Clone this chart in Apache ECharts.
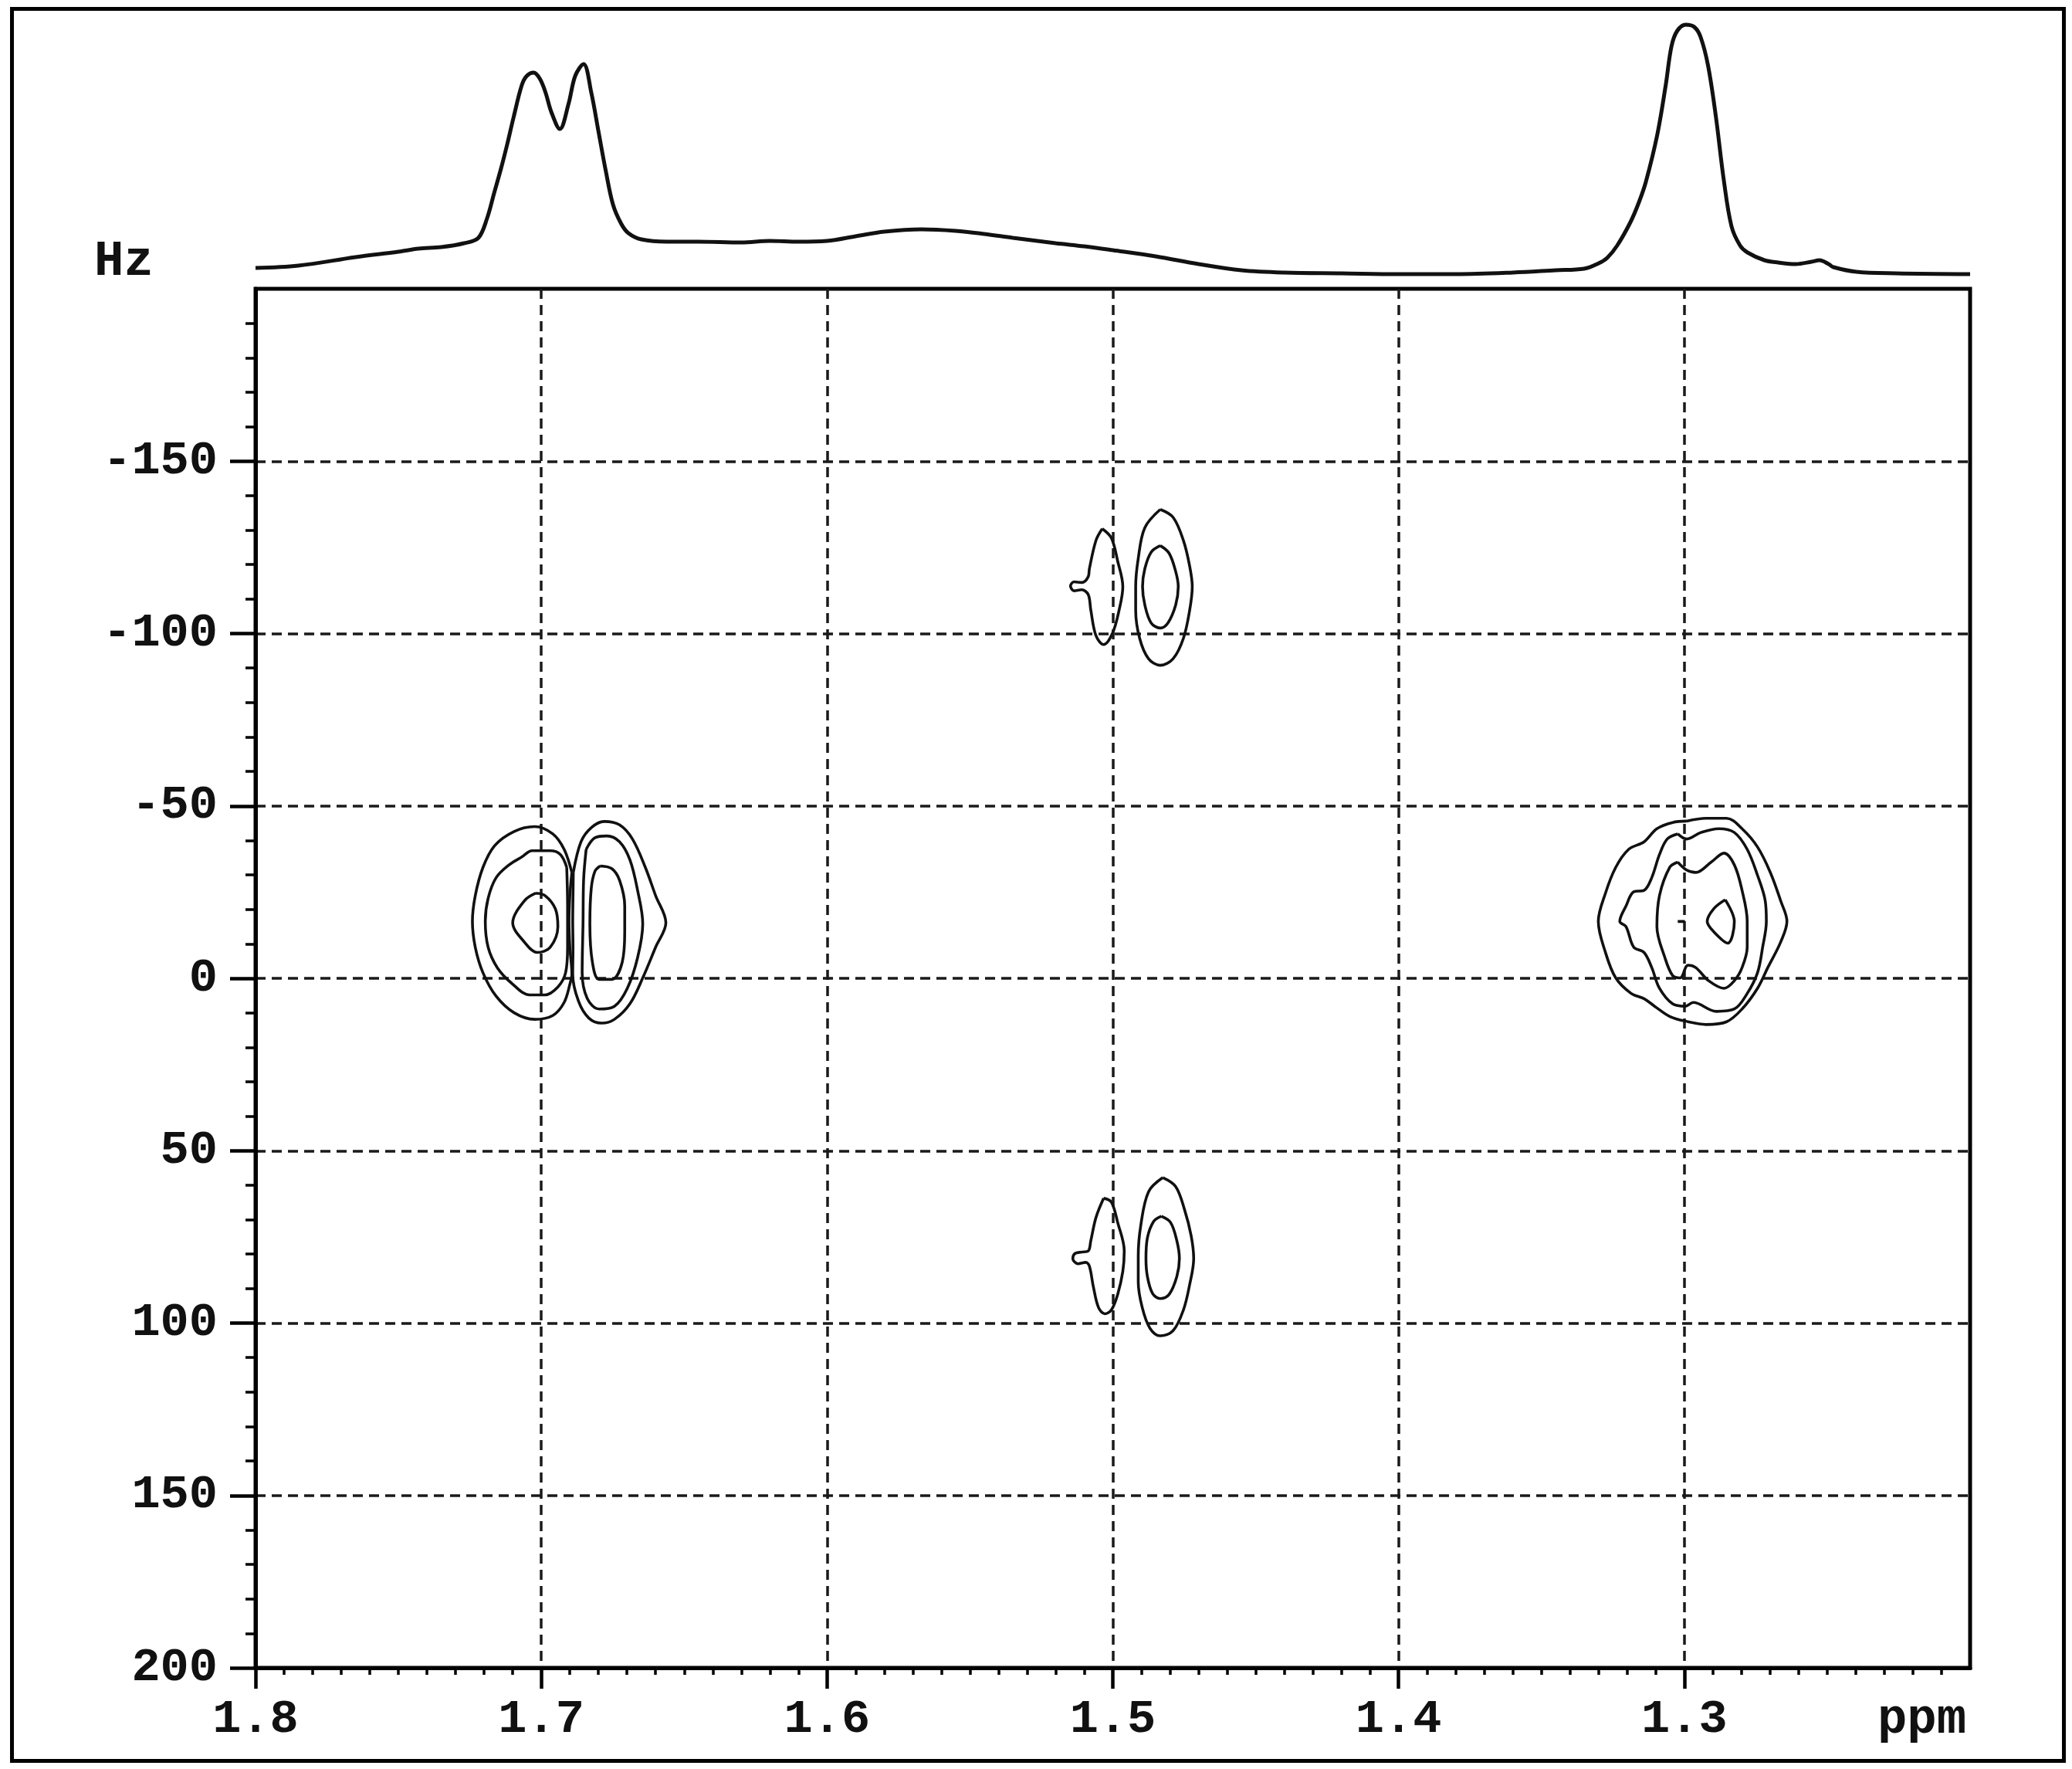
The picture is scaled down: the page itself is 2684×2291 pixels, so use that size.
<!DOCTYPE html>
<html>
<head>
<meta charset="utf-8">
<script src="https://cdn.jsdelivr.net/npm/echarts@6.0.0/dist/echarts.min.js"></script>
<style>
html,body{margin:0;padding:0;background:#fff;}
#chart{width:2684px;height:2291px;}
</style>
</head>
<body>
<div id="chart"></div>
<script>
// ---- tick labels ----
const ppmTickLabels = [1.8, 1.7, 1.6, 1.5, 1.4, 1.3];
const hzTickLabels = [-150, -100, -50, 0, 50, 100, 150, 200];

// ---- 1D projection spectrum: [ppm, intensity] ----
const spectrum = [
  [1.800, 13], [1.785, 16], [1.765, 27], [1.750, 34], [1.743, 38], [1.735, 40],
  [1.727, 45], [1.722, 52], [1.719, 77], [1.7165, 110], [1.714, 143], [1.712, 172],
  [1.7097, 208], [1.7068, 250], [1.705, 262], [1.7027, 266], [1.7005, 258],
  [1.6985, 240], [1.6965, 215], [1.6935, 193], [1.6905, 225], [1.6881, 262],
  [1.6852, 277], [1.6825, 240], [1.6800, 190], [1.6775, 140], [1.6749, 95],
  [1.672, 70], [1.6695, 58], [1.665, 50], [1.656, 47], [1.645, 47], [1.63, 46],
  [1.62, 48], [1.61, 47], [1.60, 48], [1.59, 54], [1.58, 60], [1.567, 63],
  [1.555, 61], [1.545, 57], [1.535, 52], [1.52, 45], [1.51, 41], [1.50, 36],
  [1.485, 28], [1.47, 18], [1.455, 10], [1.44, 7], [1.42, 6], [1.40, 5],
  [1.38, 5], [1.36, 7], [1.345, 10], [1.3351, 12], [1.330, 19], [1.327, 26],
  [1.3235, 42], [1.3189, 72], [1.316, 97], [1.3135, 124], [1.3095, 185],
  [1.3065, 250], [1.3045, 300], [1.3025, 320], [1.2995, 328], [1.2965, 325],
  [1.2943, 312], [1.2917, 275], [1.2890, 210], [1.2862, 127], [1.2835, 67],
  [1.2805, 42], [1.2779, 33], [1.272, 23], [1.2671, 20], [1.261, 18],
  [1.2555, 21], [1.2527, 23], [1.2495, 18], [1.2478, 14], [1.2398, 8],
  [1.226, 6], [1.20, 5]
];

// ---- 2D J-resolved contours: [ppm, Hz] vertices ----
const doubletLeftOuter = [
  [1.6893,-30.7],[1.6920,-37.4],[1.6960,-41.9],[1.7023,-44.0],[1.7095,-42.6],[1.7163,-38.5],
  [1.7204,-32.2],[1.7231,-24.0],[1.7241,-16.5],[1.7231,-9.0],[1.7204,-1.6],[1.7158,5.2],
  [1.7095,10.0],[1.7023,11.9],[1.6960,10.8],[1.6920,7.0],[1.6899,1.4],[1.6893,-1.2],
  [1.6900,-9.0],[1.6903,-16.5],[1.6900,-24.0]
];
const doubletLeftMiddle = [
  [1.6911,-32.2],[1.6933,-35.9],[1.6969,-37.0],[1.7032,-37.0],[1.7068,-35.2],[1.7113,-32.9],
  [1.7158,-29.2],[1.7186,-23.2],[1.7196,-16.5],[1.7186,-9.0],[1.7154,-3.1],[1.7104,1.4],
  [1.7041,4.8],[1.6987,4.8],[1.6942,2.5],[1.6915,-1.6],[1.6908,-9.0],[1.6908,-21.0]
];
const doubletLeftInner = [
  [1.7019,-24.7],[1.7059,-22.5],[1.7100,-16.1],[1.7059,-10.5],[1.7014,-7.5],
  [1.6969,-9.0],[1.6942,-15.0],[1.6951,-20.2],[1.6987,-24.0]
];
const doubletRightOuter = [
  [1.6888,-30.7],[1.6861,-39.6],[1.6825,-43.7],[1.6780,-45.5],[1.6726,-44.5],[1.6681,-40.4],
  [1.6636,-32.2],[1.6600,-24.0],[1.6564,-16.1],[1.6600,-9.0],[1.6645,-0.1],[1.6690,7.4],
  [1.6744,11.9],[1.6789,13.0],[1.6834,11.5],[1.6870,6.6],[1.6890,-1.2],[1.6889,-9.0],
  [1.6890,-16.5],[1.6889,-24.0]
];
const doubletRightMiddle = [
  [1.6843,-37.4],[1.6812,-40.8],[1.6771,-41.3],[1.6726,-39.6],[1.6690,-34.4],[1.6663,-25.5],
  [1.6645,-15.8],[1.6663,-6.0],[1.6699,2.9],[1.6744,8.1],[1.6798,8.9],[1.6839,5.9],
  [1.6857,-1.6],[1.6854,-15.8],[1.6852,-28.4]
];
const doubletRightInner = [
  [1.6794,-32.6],[1.6753,-31.8],[1.6726,-28.4],[1.6708,-21.0],[1.6708,-13.5],[1.6717,-4.6],
  [1.6753,0.3],[1.6798,0.3],[1.6821,-4.6],[1.6830,-15.8],[1.6825,-26.2],[1.6812,-31.1]
];
const upperLeftOuter = [
  [1.5037,-130.4],[1.5005,-127.7],[1.4983,-121.0],[1.4965,-113.6],[1.4978,-106.8],[1.5001,-100.1],
  [1.5032,-96.8],[1.5059,-99.4],[1.5077,-106.8],[1.5086,-111.3],[1.5109,-112.7],[1.5136,-112.4],
  [1.5148,-113.8],[1.5136,-115.0],[1.5109,-114.8],[1.5086,-116.5],[1.5082,-118.8],[1.5059,-127.0]
];
const upperRightOuter = [
  [1.4834,-136.0],[1.4789,-133.7],[1.4753,-127.0],[1.4731,-119.5],[1.4722,-113.6],[1.4731,-106.8],
  [1.4753,-98.6],[1.4789,-92.7],[1.4834,-90.8],[1.4875,-92.7],[1.4906,-98.6],[1.4920,-106.8],
  [1.4920,-113.6],[1.4911,-121.8],[1.4888,-130.7]
];
const upperRightInner = [
  [1.4834,-125.5],[1.4803,-123.3],[1.4780,-118.0],[1.4771,-113.6],[1.4780,-108.3],[1.4807,-103.1],
  [1.4834,-101.6],[1.4866,-103.1],[1.4888,-108.3],[1.4896,-113.6],[1.4888,-118.8],[1.4866,-123.6]
];
const lowerLeftOuter = [
  [1.5032,63.8],[1.5005,64.9],[1.4983,70.8],[1.4960,79.1],[1.4965,85.0],[1.4983,91.7],
  [1.5005,96.2],[1.5028,97.3],[1.5050,95.5],[1.5068,89.5],[1.5082,83.5],[1.5095,82.4],
  [1.5122,82.8],[1.5140,81.3],[1.5132,79.8],[1.5109,79.4],[1.5086,79.1],[1.5077,76.1],[1.5059,69.4]
];
const lowerRightOuter = [
  [1.4825,57.8],[1.4780,60.4],[1.4749,67.1],[1.4726,74.6],[1.4717,81.3],[1.4731,88.8],
  [1.4753,96.2],[1.4789,102.2],[1.4834,103.7],[1.4870,101.5],[1.4897,95.5],[1.4911,88.0],
  [1.4911,80.5],[1.4902,71.6],[1.4875,61.9]
];
const lowerRightInner = [
  [1.4830,69.0],[1.4798,70.8],[1.4776,76.1],[1.4767,81.3],[1.4776,86.5],[1.4803,91.7],
  [1.4834,92.9],[1.4861,91.4],[1.4879,86.5],[1.4884,81.3],[1.4879,75.3],[1.4857,70.5]
];
const methylLevel1 = [
  [1.2992,-45.6],[1.2924,-46.4],[1.2852,-46.4],[1.2798,-43.4],[1.2744,-38.1],[1.2699,-30.7],
  [1.2663,-22.5],[1.2641,-16.5],[1.2663,-10.5],[1.2708,-3.1],[1.2744,2.9],[1.2798,8.9],
  [1.2852,12.6],[1.2924,13.4],[1.2987,12.6],[1.3050,11.1],[1.3104,8.1],[1.3141,5.9],
  [1.3186,4.4],[1.3240,-0.1],[1.3276,-7.5],[1.3301,-16.5],[1.3276,-24.7],[1.3240,-32.2],
  [1.3195,-37.4],[1.3141,-39.6],[1.3096,-43.4],[1.3041,-45.2]
];
const methylLevel2 = [
  [1.3023,-41.9],[1.2992,-40.4],[1.2942,-42.3],[1.2879,-43.4],[1.2825,-42.3],[1.2780,-37.4],
  [1.2744,-29.9],[1.2717,-22.5],[1.2713,-16.5],[1.2726,-9.0],[1.2744,-1.6],[1.2780,4.4],
  [1.2825,8.9],[1.2888,9.6],[1.2969,7.0],[1.2996,8.1],[1.3041,7.4],[1.3087,2.9],
  [1.3114,-3.1],[1.3141,-7.5],[1.3177,-9.0],[1.3204,-15.0],[1.3226,-16.5],[1.3204,-21.0],
  [1.3177,-25.1],[1.3141,-25.5],[1.3114,-29.2],[1.3087,-35.9],[1.3060,-40.4]
];
const methylLevel3 = [
  [1.3023,-33.7],[1.2992,-31.4],[1.2960,-30.7],[1.2906,-33.7],[1.2861,-36.3],[1.2825,-32.9],
  [1.2798,-25.5],[1.2780,-16.5],[1.2780,-9.0],[1.2798,-3.1],[1.2825,0.7],[1.2861,2.9],
  [1.2915,0.7],[1.2960,-3.1],[1.2987,-3.8],[1.3015,-0.1],[1.3041,-0.8],[1.3068,-6.0],
  [1.3096,-15.0],[1.3087,-24.0],[1.3051,-32.2]
];
const methylLevel4 = [
  [1.2857,-22.8],[1.2825,-16.5],[1.2848,-10.2],[1.2897,-13.5],[1.2920,-16.5],[1.2897,-20.2]
];
const methylMark = [[1.3023,-16.5],[1.2998,-16.5]];

const closedContours = [
  doubletLeftOuter, doubletLeftMiddle, doubletLeftInner,
  doubletRightOuter, doubletRightMiddle, doubletRightInner,
  upperLeftOuter, upperRightOuter, upperRightInner,
  lowerLeftOuter, lowerRightOuter, lowerRightInner,
  methylLevel1, methylLevel2, methylLevel3, methylLevel4
];

const FONT = 'Liberation Mono';
const INK = '#111';

const series = [];
series.push({
  type: 'line', xAxisIndex: 1, yAxisIndex: 1, data: spectrum,
  smooth: 0.35, symbol: 'none', silent: true,
  lineStyle: { color: INK, width: 5 }
});
closedContours.forEach(function (c) {
  series.push({
    type: 'line', xAxisIndex: 0, yAxisIndex: 0, data: c.concat([c[0]]),
    smooth: 0.35, symbol: 'none', silent: true, z: 3,
    lineStyle: { color: INK, width: 3.6 }
  });
});
series.push({
  type: 'line', xAxisIndex: 0, yAxisIndex: 0, data: methylMark,
  symbol: 'none', silent: true, z: 3, lineStyle: { color: INK, width: 3.6 }
});

function near(a, b) { return Math.abs(a - b) < 1e-6; }

const option = {
  backgroundColor: '#fff',
  animation: false,
  title: {
    text: 'Hz', left: 122, top: 308, padding: 0,
    textStyle: { fontFamily: FONT, fontWeight: 'bold', fontSize: 64, color: INK }
  },
  graphic: [{
    type: 'rect', silent: true,
    shape: { x: 15.5, y: 11.5, width: 2658, height: 2269 },
    style: { fill: 'none', stroke: '#000', lineWidth: 5 }
  }],
  grid: [
    { left: 331, top: 374, width: 2221, height: 1786, show: true, borderColor: '#000', borderWidth: 5, backgroundColor: 'transparent' },
    { left: 331, top: 20, width: 2221, height: 340, show: false }
  ],
  xAxis: [
    {
      type: 'value', gridIndex: 0, min: 1.2, max: 1.8, interval: 0.1, inverse: true,
      axisLine: { show: true, onZero: false, lineStyle: { color: '#000', width: 5 } },
      axisTick: { show: true, length: 27, customValues: ppmTickLabels, lineStyle: { color: '#000', width: 4.5 } },
      minorTick: { show: true, splitNumber: 10, length: 9, lineStyle: { color: '#000', width: 3.5 } },
      splitLine: { show: true, lineStyle: { color: '#1a1a1a', width: 3.5, type: [13, 8] } },
      minorSplitLine: { show: false },
      axisLabel: {
        margin: 36, color: INK, fontFamily: FONT, fontWeight: 'bold', fontSize: 62,
        showMinLabel: true, showMaxLabel: true,
        formatter: function (v) {
          if (near(v, 1.2)) return '{u|ppm}';
          for (const t of ppmTickLabels) if (near(v, t)) return t.toFixed(1);
          return '';
        },
        rich: { u: { fontFamily: FONT, fontWeight: 'bold', fontSize: 64, color: INK, padding: [0, 125, 0, 0] } }
      }
    },
    { type: 'value', gridIndex: 1, min: 1.2, max: 1.8, inverse: true, show: false }
  ],
  yAxis: [
    {
      type: 'value', gridIndex: 0, min: -200, max: 200, interval: 50, inverse: true,
      axisLine: { show: true, onZero: false, lineStyle: { color: '#000', width: 5 } },
      axisTick: { show: true, length: 33, customValues: hzTickLabels, lineStyle: { color: '#000', width: 4.5 } },
      minorTick: { show: true, splitNumber: 5, length: 13, lineStyle: { color: '#000', width: 3.5 } },
      splitLine: { show: true, lineStyle: { color: '#1a1a1a', width: 3.5, type: [13, 8] } },
      axisLabel: {
        margin: 49, color: INK, fontFamily: FONT, fontWeight: 'bold', fontSize: 62,
        showMinLabel: true, showMaxLabel: true,
        formatter: function (v) {
          for (const t of hzTickLabels) if (near(v, t)) return String(t);
          return '';
        }
      }
    },
    { type: 'value', gridIndex: 1, min: 0, max: 340, show: false }
  ],
  series: series
};

const chart = echarts.init(document.getElementById('chart'), null, { renderer: 'canvas' });
chart.setOption(option);
</script>
</body>
</html>
